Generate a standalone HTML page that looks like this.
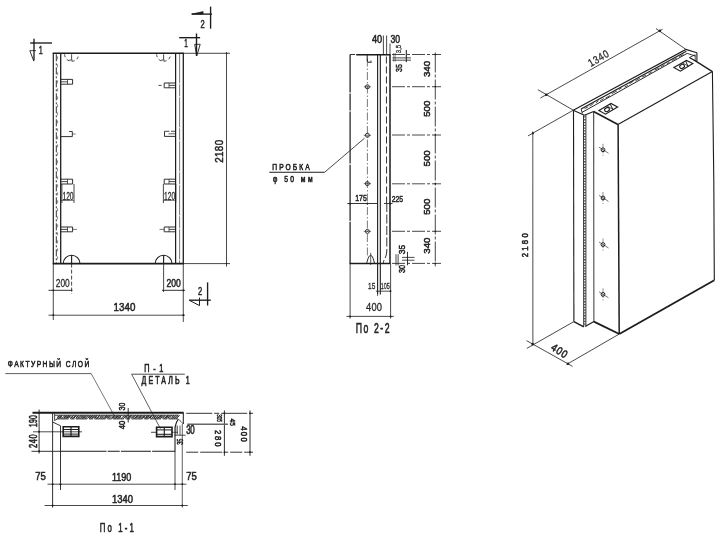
<!DOCTYPE html>
<html><head><meta charset="utf-8"><title>Panel drawing</title>
<style>
html,body{margin:0;padding:0;background:#fff;}
body{width:728px;height:543px;overflow:hidden;font-family:"Liberation Sans",sans-serif;}
svg{display:block;}
svg text{font-family:"Liberation Sans",sans-serif;fill:#1c1c1c;stroke:#1c1c1c;stroke-linejoin:round;}
</style></head><body>
<svg width="728" height="543" viewBox="0 0 728 543" fill="none" stroke="#1c1c1c" stroke-linecap="butt" stroke-linejoin="miter">
<defs><filter id="soft" x="0" y="0" width="728" height="543" filterUnits="userSpaceOnUse"><feGaussianBlur stdDeviation="0.38"/></filter></defs>
<rect x="0" y="0" width="728" height="543" fill="#ffffff" stroke="none"/>
<g filter="url(#soft)">
<line x1="52.7" y1="53.3" x2="183.9" y2="53.3" stroke-width="1.5"/>
<line x1="52.7" y1="263.6" x2="183.9" y2="263.6" stroke-width="1.7"/>
<line x1="53.3" y1="53.3" x2="53.3" y2="263.6" stroke-width="1.2"/>
<line x1="183.3" y1="53.3" x2="183.3" y2="263.6" stroke-width="1.3"/>
<line x1="60.7" y1="53.3" x2="60.7" y2="263.6" stroke-width="1.3"/>
<line x1="175.6" y1="53.3" x2="175.6" y2="263.6" stroke-width="1.2"/>
<line x1="56.3" y1="54.3" x2="56.3" y2="263.6" stroke-width="0.9" stroke-dasharray="7 2 2 2"/>
<line x1="57.6" y1="56.3" x2="57.6" y2="263.6" stroke-width="0.5" stroke-dasharray="3 5"/>
<line x1="179.6" y1="53.3" x2="179.6" y2="263.6" stroke-width="0.6" stroke-dasharray="30 1 12 1"/>
<line x1="183.3" y1="53.3" x2="230.0" y2="53.3" stroke-width="0.8"/>
<line x1="183.3" y1="263.6" x2="230.0" y2="263.6" stroke-width="0.8"/>
<line x1="226.5" y1="52.3" x2="226.5" y2="266.6" stroke-width="0.8"/>
<circle cx="226.5" cy="53.3" r="0.8" fill="#1c1c1c" stroke="none"/>
<circle cx="226.5" cy="263.6" r="0.8" fill="#1c1c1c" stroke="none"/>
<text x="0" y="4.2" font-size="11.6" text-anchor="middle" stroke-width="0.54" fill-opacity="0.92" textLength="27.1" lengthAdjust="spacing" transform="translate(219.2 151.3) rotate(-90) scale(0.85 1)">2180</text>
<line x1="53.3" y1="263.6" x2="53.3" y2="320.0" stroke-width="0.8"/>
<line x1="183.3" y1="263.6" x2="183.3" y2="322.0" stroke-width="0.8"/>
<line x1="48.5" y1="315.2" x2="185.0" y2="315.2" stroke-width="0.8"/>
<circle cx="53.3" cy="315.2" r="0.9" fill="#1c1c1c" stroke="none"/>
<circle cx="183.3" cy="315.2" r="0.9" fill="#1c1c1c" stroke="none"/>
<text x="0" y="4.1" font-size="11.5" text-anchor="middle" stroke-width="0.54" fill-opacity="0.92" textLength="25.9" lengthAdjust="spacing" transform="translate(124.4 307.2) scale(0.85 1)">1340</text>
<line x1="48.5" y1="290.3" x2="72.5" y2="290.3" stroke-width="0.9"/>
<line x1="71.6" y1="263.6" x2="71.6" y2="294.0" stroke-width="0.8" stroke-dasharray="4 2"/>
<circle cx="53.3" cy="290.3" r="0.9" fill="#1c1c1c" stroke="none"/>
<text x="62.8" y="287.3" font-size="10.6" text-anchor="middle" stroke-width="0.28" fill-opacity="0.92" textLength="14.0" lengthAdjust="spacingAndGlyphs">200</text>
<line x1="162.0" y1="290.3" x2="185.0" y2="290.3" stroke-width="0.9"/>
<line x1="163.6" y1="263.6" x2="163.6" y2="292.0" stroke-width="0.8"/>
<circle cx="183.3" cy="290.3" r="0.9" fill="#1c1c1c" stroke="none"/>
<text x="173.7" y="287.3" font-size="10.6" text-anchor="middle" stroke-width="0.5" fill-opacity="0.92" textLength="14.4" lengthAdjust="spacingAndGlyphs">200</text>
<path d="M63.3 263.6 A8.3 8.3 0 0 1 79.9 263.6" stroke-width="1.1" fill="none"/>
<line x1="71.6" y1="255.3" x2="71.6" y2="263.6" stroke-width="1.1"/>
<path d="M155.3 263.6 A8.3 8.3 0 0 1 171.9 263.6" stroke-width="1.1" fill="none"/>
<line x1="163.6" y1="255.3" x2="163.6" y2="263.6" stroke-width="1.1"/>
<path d="M64.6 54.3 A7 7 0 0 0 78.6 54.3" stroke-width="0.8" fill="none" stroke-dasharray="3 2.5"/>
<line x1="71.6" y1="54.3" x2="71.6" y2="59.8" stroke-width="0.8"/>
<line x1="69.1" y1="60.1" x2="72.6" y2="60.1" stroke-width="0.8"/>
<path d="M156.6 54.3 A7 7 0 0 0 170.6 54.3" stroke-width="0.8" fill="none" stroke-dasharray="3 2.5"/>
<line x1="163.6" y1="54.3" x2="163.6" y2="59.8" stroke-width="0.8"/>
<line x1="161.1" y1="60.1" x2="164.6" y2="60.1" stroke-width="0.8"/>
<line x1="60.7" y1="79.4" x2="72.6" y2="79.4" stroke-width="0.9"/>
<line x1="60.7" y1="84.2" x2="72.6" y2="84.2" stroke-width="0.9"/>
<line x1="72.6" y1="79.4" x2="72.6" y2="84.2" stroke-width="0.9"/>
<line x1="60.7" y1="81.8" x2="67.5" y2="81.8" stroke-width="0.8"/>
<line x1="67.5" y1="79.4" x2="67.5" y2="84.2" stroke-width="0.7"/>
<line x1="175.8" y1="83.0" x2="164.2" y2="83.0" stroke-width="0.9"/>
<line x1="175.8" y1="87.8" x2="164.2" y2="87.8" stroke-width="0.9"/>
<line x1="164.2" y1="83.0" x2="164.2" y2="87.8" stroke-width="0.9"/>
<line x1="175.8" y1="85.4" x2="169.0" y2="85.4" stroke-width="0.8"/>
<line x1="169.0" y1="83.0" x2="169.0" y2="87.8" stroke-width="0.7"/>
<line x1="158.5" y1="85.4" x2="161.5" y2="85.4" stroke-width="0.8"/>
<line x1="60.7" y1="136.6" x2="72.3" y2="136.6" stroke-width="0.9"/>
<line x1="72.3" y1="131.5" x2="72.3" y2="136.6" stroke-width="0.9"/>
<line x1="69.0" y1="131.5" x2="72.3" y2="131.5" stroke-width="0.8"/>
<line x1="72.3" y1="134.0" x2="75.5" y2="134.0" stroke-width="0.6"/>
<line x1="164.5" y1="131.3" x2="175.8" y2="131.3" stroke-width="0.8" stroke-dasharray="5 1.5"/>
<line x1="164.5" y1="136.4" x2="175.8" y2="136.4" stroke-width="0.9"/>
<line x1="164.5" y1="131.3" x2="164.5" y2="136.4" stroke-width="0.9"/>
<line x1="168.5" y1="133.8" x2="175.8" y2="133.8" stroke-width="0.7"/>
<line x1="60.7" y1="179.2" x2="72.6" y2="179.2" stroke-width="0.9"/>
<line x1="60.7" y1="184.0" x2="72.6" y2="184.0" stroke-width="0.9"/>
<line x1="72.6" y1="179.2" x2="72.6" y2="184.0" stroke-width="0.9"/>
<line x1="60.7" y1="181.6" x2="67.5" y2="181.6" stroke-width="0.8"/>
<line x1="67.5" y1="179.2" x2="67.5" y2="184.0" stroke-width="0.7"/>
<line x1="175.8" y1="179.2" x2="164.2" y2="179.2" stroke-width="0.9"/>
<line x1="175.8" y1="184.0" x2="164.2" y2="184.0" stroke-width="0.9"/>
<line x1="164.2" y1="179.2" x2="164.2" y2="184.0" stroke-width="0.9"/>
<line x1="175.8" y1="181.6" x2="169.0" y2="181.6" stroke-width="0.8"/>
<line x1="169.0" y1="179.2" x2="169.0" y2="184.0" stroke-width="0.7"/>
<line x1="61.9" y1="184.0" x2="61.9" y2="203.0" stroke-width="0.8"/>
<line x1="74.0" y1="184.0" x2="74.0" y2="203.0" stroke-width="0.8"/>
<text x="68.0" y="200.2" font-size="10.2" text-anchor="middle" stroke-width="0.28" fill-opacity="0.92" textLength="11.2" lengthAdjust="spacingAndGlyphs">120</text>
<line x1="163.4" y1="184.0" x2="163.4" y2="203.0" stroke-width="0.8"/>
<line x1="175.8" y1="184.0" x2="175.8" y2="203.0" stroke-width="0.8"/>
<text x="169.6" y="200.2" font-size="10.2" text-anchor="middle" stroke-width="0.28" fill-opacity="0.92" textLength="11.2" lengthAdjust="spacingAndGlyphs">120</text>
<line x1="60.7" y1="200.5" x2="74.0" y2="200.5" stroke-width="0.5"/>
<line x1="163.4" y1="200.5" x2="175.8" y2="200.5" stroke-width="0.5"/>
<line x1="60.7" y1="227.0" x2="72.6" y2="227.0" stroke-width="0.9"/>
<line x1="60.7" y1="231.8" x2="72.6" y2="231.8" stroke-width="0.9"/>
<line x1="72.6" y1="227.0" x2="72.6" y2="231.8" stroke-width="0.9"/>
<line x1="60.7" y1="229.4" x2="67.5" y2="229.4" stroke-width="0.8"/>
<line x1="67.5" y1="227.0" x2="67.5" y2="231.8" stroke-width="0.7"/>
<line x1="72.6" y1="229.4" x2="77.0" y2="229.4" stroke-width="0.6"/>
<line x1="175.8" y1="227.0" x2="164.2" y2="227.0" stroke-width="0.9"/>
<line x1="175.8" y1="231.8" x2="164.2" y2="231.8" stroke-width="0.9"/>
<line x1="164.2" y1="227.0" x2="164.2" y2="231.8" stroke-width="0.9"/>
<line x1="175.8" y1="229.4" x2="169.0" y2="229.4" stroke-width="0.8"/>
<line x1="169.0" y1="227.0" x2="169.0" y2="231.8" stroke-width="0.7"/>
<line x1="159.5" y1="229.4" x2="164.2" y2="229.4" stroke-width="0.6"/>
<line x1="30.2" y1="43.0" x2="52.0" y2="43.0" stroke-width="1.35"/>
<line x1="34.0" y1="38.8" x2="34.0" y2="60.5" stroke-width="1.35"/>
<path d="M29.8 50.6 L36.0 50.6" stroke-width="0.8" fill="none"/>
<path d="M29.8 50.6 L33.8 61.2" stroke-width="0.9" fill="none"/>
<text x="40.8" y="53.5" font-size="10.8" text-anchor="middle" stroke-width="0.5" fill-opacity="0.92" textLength="4.0" lengthAdjust="spacingAndGlyphs">1</text>
<line x1="191.7" y1="14.1" x2="212.0" y2="14.1" stroke-width="1.35"/>
<line x1="210.6" y1="6.6" x2="210.6" y2="28.7" stroke-width="1.35"/>
<path d="M191.7 14.1 L203.1 11.6 L203.1 14.1 Z" stroke-width="0.6" fill="#1c1c1c"/>
<text x="202.5" y="27.7" font-size="10.4" text-anchor="middle" stroke-width="0.5" fill-opacity="0.92" textLength="4.2" lengthAdjust="spacingAndGlyphs">2</text>
<line x1="179.2" y1="37.7" x2="200.1" y2="37.7" stroke-width="1.35"/>
<line x1="196.5" y1="33.5" x2="196.5" y2="56.0" stroke-width="1.35"/>
<path d="M194.7 44.3 L200.2 44.3 L196.7 56.0 Z" stroke-width="0.9" fill="none"/>
<text x="186.0" y="46.6" font-size="11" text-anchor="middle" stroke-width="0.5" fill-opacity="0.92" textLength="3.6" lengthAdjust="spacingAndGlyphs">1</text>
<line x1="207.6" y1="282.4" x2="207.6" y2="305.5" stroke-width="1.35"/>
<line x1="189.2" y1="300.2" x2="210.8" y2="300.2" stroke-width="1.35"/>
<path d="M189.2 300.2 L199.5 305.6" stroke-width="1.0" fill="none"/>
<path d="M199.5 297.6 L199.5 305.6" stroke-width="1.0" fill="none"/>
<text x="200.2" y="294.5" font-size="10.8" text-anchor="middle" stroke-width="0.5" fill-opacity="0.92" textLength="4.2" lengthAdjust="spacingAndGlyphs">2</text>
<line x1="350.1" y1="54.5" x2="350.1" y2="263.4" stroke-width="1.2" stroke-dasharray="38 1 17 1 52 1.2"/>
<line x1="350.1" y1="263.4" x2="350.1" y2="318.5" stroke-width="0.8"/>
<line x1="350.1" y1="54.5" x2="358.0" y2="54.5" stroke-width="0.9" stroke-dasharray="5 1.5"/>
<line x1="356.3" y1="54.8" x2="390.5" y2="54.8" stroke-width="1.5"/>
<line x1="349.6" y1="263.4" x2="390.6" y2="263.4" stroke-width="1.5"/>
<line x1="377.6" y1="54.5" x2="377.6" y2="294.5" stroke-width="1.1"/>
<line x1="380.3" y1="54.5" x2="380.3" y2="294.5" stroke-width="1.1"/>
<line x1="386.4" y1="56.5" x2="386.6" y2="203.0" stroke-width="0.9" stroke-dasharray="7 3"/>
<line x1="390.0" y1="54.5" x2="390.0" y2="263.4" stroke-width="1.5"/>
<path d="M386.8 203 L386.8 251 Q386.6 256 384.6 259 Q383.4 261 383.3 263.4" stroke-width="0.9" fill="none" stroke-dasharray="9 2.5"/>
<line x1="383.4" y1="35.5" x2="383.4" y2="54.5" stroke-width="0.8"/>
<line x1="386.6" y1="35.5" x2="386.6" y2="54.5" stroke-width="0.8"/>
<line x1="390.0" y1="43.5" x2="390.0" y2="54.5" stroke-width="0.8"/>
<text x="377.0" y="43.0" font-size="10" text-anchor="middle" stroke-width="0.5" fill-opacity="0.92" textLength="10.2" lengthAdjust="spacingAndGlyphs">40</text>
<text x="395.3" y="43.0" font-size="10" text-anchor="middle" stroke-width="0.5" fill-opacity="0.92" textLength="9.6" lengthAdjust="spacingAndGlyphs">30</text>
<line x1="367.4" y1="58.5" x2="367.4" y2="255.4" stroke-width="0.6" stroke-dasharray="8 2 1.5 2"/>
<circle cx="367.4" cy="86.8" r="2.0" stroke-width="0.9" fill="none"/>
<line x1="363.8" y1="86.8" x2="371.0" y2="86.8" stroke-width="0.6"/>
<circle cx="367.4" cy="135.3" r="2.0" stroke-width="0.9" fill="none"/>
<line x1="363.8" y1="135.3" x2="371.0" y2="135.3" stroke-width="0.6"/>
<circle cx="367.4" cy="183.6" r="2.0" stroke-width="0.9" fill="none"/>
<line x1="363.8" y1="183.6" x2="371.0" y2="183.6" stroke-width="0.6"/>
<circle cx="367.4" cy="231.4" r="2.0" stroke-width="0.9" fill="none"/>
<line x1="363.8" y1="231.4" x2="371.0" y2="231.4" stroke-width="0.6"/>
<path d="M367.2 54.5 L367.2 61.0 L368.0 62.2 L371.8 62.2" stroke-width="1.0" fill="none"/>
<line x1="370.9" y1="60.3" x2="370.9" y2="62.2" stroke-width="0.6"/>
<path d="M366.6 263.4 L368.2 258 Q370.6 252.5 373 258 L374.6 263.4" stroke-width="0.9" fill="none"/>
<line x1="370.7" y1="252.8" x2="370.7" y2="265.0" stroke-width="0.7"/>
<line x1="435.3" y1="52.5" x2="435.3" y2="266.4" stroke-width="0.8" stroke-dasharray="20 2 3 2"/>
<line x1="392.0" y1="54.5" x2="441.0" y2="54.5" stroke-width="0.8" stroke-dasharray="13 2 3 2"/>
<circle cx="435.3" cy="54.5" r="0.8" fill="#1c1c1c" stroke="none"/>
<line x1="392.0" y1="86.7" x2="441.0" y2="86.7" stroke-width="0.8" stroke-dasharray="13 2 3 2"/>
<circle cx="435.3" cy="86.7" r="0.8" fill="#1c1c1c" stroke="none"/>
<line x1="392.0" y1="135.0" x2="441.0" y2="135.0" stroke-width="0.8" stroke-dasharray="13 2 3 2"/>
<circle cx="435.3" cy="135.0" r="0.8" fill="#1c1c1c" stroke="none"/>
<line x1="392.0" y1="183.8" x2="441.0" y2="183.8" stroke-width="0.8" stroke-dasharray="13 2 3 2"/>
<circle cx="435.3" cy="183.8" r="0.8" fill="#1c1c1c" stroke="none"/>
<line x1="392.0" y1="231.3" x2="441.0" y2="231.3" stroke-width="0.8" stroke-dasharray="13 2 3 2"/>
<circle cx="435.3" cy="231.3" r="0.8" fill="#1c1c1c" stroke="none"/>
<line x1="392.0" y1="263.4" x2="441.0" y2="263.4" stroke-width="0.8" stroke-dasharray="13 2 3 2"/>
<circle cx="435.3" cy="263.4" r="0.8" fill="#1c1c1c" stroke="none"/>
<text x="426.8" y="72.5" font-size="9.8" text-anchor="middle" stroke-width="0.5" fill-opacity="0.92" textLength="16.2" lengthAdjust="spacingAndGlyphs" transform="rotate(-90 426.8 69.0)">340</text>
<text x="426.8" y="112.2" font-size="9.8" text-anchor="middle" stroke-width="0.5" fill-opacity="0.92" textLength="16.2" lengthAdjust="spacingAndGlyphs" transform="rotate(-90 426.8 108.7)">500</text>
<text x="426.8" y="161.9" font-size="9.8" text-anchor="middle" stroke-width="0.5" fill-opacity="0.92" textLength="16.2" lengthAdjust="spacingAndGlyphs" transform="rotate(-90 426.8 158.4)">500</text>
<text x="426.8" y="210.2" font-size="9.8" text-anchor="middle" stroke-width="0.5" fill-opacity="0.92" textLength="16.2" lengthAdjust="spacingAndGlyphs" transform="rotate(-90 426.8 206.7)">500</text>
<text x="426.8" y="249.1" font-size="9.8" text-anchor="middle" stroke-width="0.5" fill-opacity="0.92" textLength="16.2" lengthAdjust="spacingAndGlyphs" transform="rotate(-90 426.8 245.6)">340</text>
<line x1="347.3" y1="203.5" x2="377.6" y2="203.5" stroke-width="0.9"/>
<line x1="384.0" y1="203.5" x2="392.5" y2="203.5" stroke-width="0.8"/>
<text x="361.0" y="201.3" font-size="9.2" text-anchor="middle" stroke-width="0.5" fill-opacity="0.92" textLength="11.6" lengthAdjust="spacingAndGlyphs">175</text>
<text x="397.4" y="201.6" font-size="9.2" text-anchor="middle" stroke-width="0.5" fill-opacity="0.92" textLength="11.4" lengthAdjust="spacingAndGlyphs">225</text>
<circle cx="350.1" cy="203.5" r="1.0" fill="#1c1c1c" stroke="none"/>
<circle cx="367.4" cy="203.5" r="0.9" fill="#1c1c1c" stroke="none"/>
<circle cx="390.0" cy="203.5" r="0.9" fill="#1c1c1c" stroke="none"/>
<line x1="392.4" y1="57.9" x2="411.0" y2="57.9" stroke-width="0.8"/>
<line x1="392.4" y1="60.2" x2="411.0" y2="60.2" stroke-width="0.8"/>
<line x1="406.3" y1="49.9" x2="406.3" y2="62.2" stroke-width="1.0"/>
<line x1="393.7" y1="53.0" x2="393.7" y2="61.5" stroke-width="0.5"/>
<line x1="395.2" y1="53.0" x2="395.2" y2="61.5" stroke-width="0.5"/>
<text x="398.9" y="71.2" font-size="9" text-anchor="middle" stroke-width="0.5" fill-opacity="0.92" textLength="7.8" lengthAdjust="spacingAndGlyphs" transform="rotate(-90 398.9 68.0)">35</text>
<text x="398.6" y="51.7" font-size="7.4" text-anchor="middle" stroke-width="0.28" fill-opacity="0.92" textLength="8.3" lengthAdjust="spacingAndGlyphs" transform="rotate(-90 398.6 49.0)">3,5</text>
<line x1="396.0" y1="254.2" x2="396.0" y2="265.4" stroke-width="0.8"/>
<line x1="398.1" y1="254.2" x2="398.1" y2="265.4" stroke-width="0.8"/>
<line x1="407.5" y1="251.9" x2="407.5" y2="265.2" stroke-width="0.9"/>
<line x1="402.0" y1="257.4" x2="414.5" y2="257.4" stroke-width="0.8"/>
<line x1="402.0" y1="260.2" x2="414.5" y2="260.2" stroke-width="0.8"/>
<text x="402.4" y="252.6" font-size="8.6" text-anchor="middle" stroke-width="0.5" fill-opacity="0.92" textLength="9.4" lengthAdjust="spacingAndGlyphs" transform="rotate(-90 402.4 249.5)">35</text>
<text x="401.9" y="272.1" font-size="8.6" text-anchor="middle" stroke-width="0.5" fill-opacity="0.92" textLength="8.2" lengthAdjust="spacingAndGlyphs" transform="rotate(-90 401.9 269.0)">30</text>
<line x1="377.6" y1="294.5" x2="377.6" y2="296.0" stroke-width="0.7"/>
<line x1="375.9" y1="291.2" x2="391.0" y2="291.2" stroke-width="0.8"/>
<line x1="390.6" y1="263.4" x2="390.6" y2="318.5" stroke-width="0.8"/>
<text x="371.7" y="289.4" font-size="9.2" text-anchor="middle" stroke-width="0.28" fill-opacity="0.92" textLength="7.2" lengthAdjust="spacingAndGlyphs">15</text>
<text x="385.2" y="289.4" font-size="9.2" text-anchor="middle" stroke-width="0.28" fill-opacity="0.92" textLength="9.0" lengthAdjust="spacingAndGlyphs">105</text>
<circle cx="390.5" cy="291.2" r="0.9" fill="#1c1c1c" stroke="none"/>
<line x1="346.5" y1="316.4" x2="393.8" y2="316.4" stroke-width="0.8"/>
<circle cx="350.1" cy="316.4" r="0.9" fill="#1c1c1c" stroke="none"/>
<circle cx="390.6" cy="316.4" r="0.9" fill="#1c1c1c" stroke="none"/>
<text x="0" y="4.0" font-size="11" text-anchor="middle" stroke-width="0.30" fill-opacity="0.92" textLength="18.6" lengthAdjust="spacing" transform="translate(374.0 307.0) scale(0.85 1)">400</text>
<text x="0" y="5.0" font-size="14" text-anchor="middle" stroke-width="0.64" fill-opacity="0.92" textLength="54.8" lengthAdjust="spacing" transform="translate(372.7 328.0) scale(0.62 1)">По 2-2</text>
<text x="0" y="3.1" font-size="8.6" text-anchor="middle" stroke-width="0.57" fill-opacity="0.92" textLength="48.1" lengthAdjust="spacing" transform="translate(291.0 167.0) scale(0.78 1)">ПРОБКА</text>
<line x1="269.3" y1="172.3" x2="324.6" y2="172.3" stroke-width="1.1"/>
<line x1="324.6" y1="172.3" x2="364.5" y2="138.2" stroke-width="0.8"/>
<text x="0" y="3.1" font-size="8.6" text-anchor="middle" stroke-width="0.57" fill-opacity="0.92" textLength="50.6" lengthAdjust="spacing" transform="translate(292.8 178.8) scale(0.78 1)">φ 50 мм</text>
<path d="M573.3 110.2 L685.9 49.4 L696.9 52.8" stroke-width="1.1" fill="none"/>
<line x1="696.9" y1="52.8" x2="696.9" y2="61.6" stroke-width="1.1"/>
<path d="M573.3 110.2 L584.3 115.3" stroke-width="1.1" fill="none"/>
<path d="M581.1 109.0 L686.4 51.3" stroke-width="1.15" fill="none"/>
<path d="M582.0 112.4 L687.2 53.4" stroke-width="0.95" fill="none"/>
<path d="M581.1 109.0 L582.4 113.6" stroke-width="0.9" fill="none"/>
<line x1="584.6" y1="108.6" x2="588.1" y2="106.8" stroke-width="0.8"/>
<line x1="589.6" y1="106.2" x2="593.5" y2="103.5" stroke-width="0.8"/>
<line x1="595.9" y1="102.8" x2="598.5" y2="100.8" stroke-width="0.8"/>
<line x1="600.1" y1="100.9" x2="603.8" y2="98.5" stroke-width="0.8"/>
<line x1="605.6" y1="98.0" x2="609.9" y2="95.7" stroke-width="0.8"/>
<line x1="611.6" y1="93.6" x2="616.9" y2="91.0" stroke-width="0.8"/>
<line x1="618.7" y1="89.7" x2="621.6" y2="87.9" stroke-width="0.8"/>
<line x1="624.6" y1="87.0" x2="627.8" y2="85.4" stroke-width="0.8"/>
<line x1="629.5" y1="83.7" x2="633.5" y2="81.1" stroke-width="0.8"/>
<line x1="635.4" y1="80.9" x2="639.8" y2="78.3" stroke-width="0.8"/>
<line x1="642.1" y1="77.0" x2="646.0" y2="75.1" stroke-width="0.8"/>
<line x1="648.6" y1="73.7" x2="651.9" y2="71.9" stroke-width="0.8"/>
<line x1="654.7" y1="70.0" x2="659.4" y2="67.8" stroke-width="0.8"/>
<line x1="660.9" y1="67.0" x2="664.6" y2="64.7" stroke-width="0.8"/>
<line x1="666.8" y1="63.7" x2="669.6" y2="62.3" stroke-width="0.8"/>
<line x1="671.8" y1="60.6" x2="676.8" y2="58.0" stroke-width="0.8"/>
<line x1="679.2" y1="56.6" x2="683.4" y2="54.5" stroke-width="0.8"/>
<path d="M687.2 53.4 L695.3 56.0" stroke-width="0.9" fill="none"/>
<path d="M584.3 115.3 L593.6 111.5" stroke-width="1.1" fill="none"/>
<path d="M593.6 111.5 L617.9 124.5" stroke-width="1.5" fill="none"/>
<path d="M617.9 124.5 L712.4 71.6" stroke-width="1.1" fill="none"/>
<path d="M712.4 71.6 L696.6 61.6 L689.4 57.5" stroke-width="1.3" fill="none"/>
<path d="M689.4 57.5 L695.2 54.8" stroke-width="0.8" fill="none"/>
<path d="M695.2 54.8 L695.2 61.0" stroke-width="0.8" fill="none"/>
<line x1="573.5" y1="110.2" x2="573.9" y2="321.6" stroke-width="1.1"/>
<line x1="583.5" y1="115.3" x2="583.7" y2="326.8" stroke-width="0.9"/>
<line x1="585.9" y1="114.9" x2="585.9" y2="326.2" stroke-width="0.9"/>
<line x1="584.7" y1="116.3" x2="584.8" y2="326.0" stroke-width="1.5" stroke-dasharray="1.3 1.5" stroke-opacity="0.75"/>
<line x1="593.7" y1="111.5" x2="593.9" y2="321.6" stroke-width="0.9"/>
<line x1="618.1" y1="124.5" x2="619.2" y2="334.0" stroke-width="1.5"/>
<path d="M712.4 71.6 Q713.2 120 713.8 180 L714.3 280.3" stroke-width="1.1" fill="none"/>
<path d="M573.9 321.6 L583.8 326.9" stroke-width="1.5" fill="none"/>
<path d="M585.2 326.6 L593.9 321.6" stroke-width="1.1" fill="none"/>
<path d="M593.9 321.6 L619.3 334.0" stroke-width="1.8" fill="none"/>
<path d="M619.3 334.0 L714.3 280.3" stroke-width="1.8" fill="none"/>
<path d="M598.9 110.6 L611.0 103.5 L617.6 107.1 L605.5 114.2 Z" stroke-width="1.15" fill="none"/>
<ellipse cx="607.0" cy="109.6" rx="2.5" ry="1.9" stroke-width="1.1" transform="rotate(-28 607.0 109.6)"/>
<path d="M613.0 109.8 L610.2 104.0" stroke-width="1.0" fill="none"/>
<path d="M606.9 105.9 L613.5 109.5" stroke-width="0.7" fill="none"/>
<path d="M673.9 67.4 L686.5 60.4 L692.8 63.6 L680.4 71.2 Z" stroke-width="1.15" fill="none"/>
<ellipse cx="682.1" cy="66.4" rx="2.5" ry="1.9" stroke-width="1.1" transform="rotate(-28 682.1 66.4)"/>
<path d="M688.1 66.5 L685.6 60.9" stroke-width="1.0" fill="none"/>
<path d="M682.2 62.8 L688.6 66.2" stroke-width="0.7" fill="none"/>
<circle cx="603.0" cy="149.8" r="1.9" stroke-width="1.0" fill="none"/>
<line x1="603.0" y1="143.8" x2="603.0" y2="155.8" stroke-width="0.5" stroke-dasharray="4 1.5"/>
<line x1="599.0" y1="147.2" x2="608.5" y2="153.2" stroke-width="0.6"/>
<circle cx="603.0" cy="198.0" r="1.9" stroke-width="1.0" fill="none"/>
<line x1="603.0" y1="192.0" x2="603.0" y2="204.0" stroke-width="0.5" stroke-dasharray="4 1.5"/>
<line x1="599.0" y1="195.4" x2="608.5" y2="201.4" stroke-width="0.6"/>
<circle cx="603.0" cy="244.6" r="1.9" stroke-width="1.0" fill="none"/>
<line x1="603.0" y1="238.6" x2="603.0" y2="250.6" stroke-width="0.5" stroke-dasharray="4 1.5"/>
<line x1="599.0" y1="242.0" x2="608.5" y2="248.0" stroke-width="0.6"/>
<circle cx="603.0" cy="294.4" r="1.9" stroke-width="1.0" fill="none"/>
<line x1="603.0" y1="288.4" x2="603.0" y2="300.4" stroke-width="0.5" stroke-dasharray="4 1.5"/>
<line x1="599.0" y1="291.8" x2="608.5" y2="297.8" stroke-width="0.6"/>
<path d="M540.4 98.0 L662.6 29.2" stroke-width="0.8" fill="none"/>
<path d="M537.9 89.7 L573.3 110.2" stroke-width="0.8" fill="none"/>
<path d="M656.0 28.6 L685.9 49.4" stroke-width="0.8" fill="none"/>
<circle cx="546.3" cy="94.7" r="1.3" fill="#1c1c1c" stroke="none"/>
<circle cx="660.0" cy="30.7" r="1.2" fill="#1c1c1c" stroke="none"/>
<text x="0" y="3.9" font-size="10.8" text-anchor="middle" stroke-width="0.31" fill-opacity="0.92" textLength="26.8" lengthAdjust="spacing" transform="translate(598.3 58.1) rotate(-30) scale(0.82 1)">1340</text>
<path d="M573.3 110.2 L528.0 135.9" stroke-width="0.8" fill="none"/>
<line x1="532.8" y1="131.5" x2="532.9" y2="346.0" stroke-width="0.8"/>
<circle cx="532.8" cy="133.3" r="1.1" fill="#1c1c1c" stroke="none"/>
<circle cx="532.6" cy="343.9" r="1.2" fill="#1c1c1c" stroke="none"/>
<text x="0" y="3.4" font-size="9.4" text-anchor="middle" stroke-width="0.55" fill-opacity="0.92" textLength="29.3" lengthAdjust="spacing" transform="translate(524.3 245.3) rotate(-90) scale(0.82 1)">2180</text>
<path d="M573.9 321.6 L526.8 348.4" stroke-width="0.8" fill="none"/>
<path d="M619.3 334.0 L566.4 364.6" stroke-width="0.8" fill="none"/>
<path d="M526.5 340.6 L572.6 366.4" stroke-width="0.8" fill="none"/>
<circle cx="568.0" cy="363.8" r="1.2" fill="#1c1c1c" stroke="none"/>
<text x="0" y="3.9" font-size="10.8" text-anchor="middle" stroke-width="0.54" fill-opacity="0.92" textLength="20.0" lengthAdjust="spacing" transform="translate(559.6 350.6) rotate(33) scale(0.85 1)">400</text>
<line x1="32.5" y1="412.7" x2="183.6" y2="412.7" stroke-width="1.9"/>
<line x1="39.1" y1="409.5" x2="39.1" y2="453.5" stroke-width="0.9"/>
<circle cx="39.1" cy="412.7" r="1.0" fill="#1c1c1c" stroke="none"/>
<circle cx="39.1" cy="431.8" r="1.0" fill="#1c1c1c" stroke="none"/>
<circle cx="39.1" cy="451.3" r="1.0" fill="#1c1c1c" stroke="none"/>
<line x1="33.0" y1="431.8" x2="82.0" y2="431.8" stroke-width="0.8"/>
<text x="0" y="4.0" font-size="11.2" text-anchor="middle" stroke-width="0.64" fill-opacity="0.92" textLength="19.0" lengthAdjust="spacing" transform="translate(32.9 421.0) rotate(-90) scale(0.62 1)">190</text>
<text x="0" y="4.0" font-size="11.2" text-anchor="middle" stroke-width="0.62" fill-opacity="0.92" textLength="20.3" lengthAdjust="spacing" transform="translate(33.0 441.2) rotate(-90) scale(0.66 1)">240</text>
<line x1="31.5" y1="451.3" x2="60.5" y2="451.3" stroke-width="0.9"/>
<line x1="60.5" y1="451.3" x2="175.0" y2="451.3" stroke-width="1.1" stroke-dasharray="46 1.2 12 1.2 30 1.2"/>
<line x1="52.6" y1="412.7" x2="52.6" y2="507.5" stroke-width="0.9"/>
<path d="M52.6 422.0 L60.5 425.8" stroke-width="0.9" fill="none"/>
<line x1="60.5" y1="425.8" x2="60.5" y2="490.0" stroke-width="0.9"/>
<path d="M54.6 413.5 L54.6 420.5 L57.8 418.8" stroke-width="0.8" fill="none"/>
<line x1="55.0" y1="415.2" x2="178.5" y2="415.2" stroke-width="0.9"/>
<line x1="57.5" y1="418.9" x2="178.0" y2="418.9" stroke-width="0.9" stroke-dasharray="11 2 4 1.5"/>
<line x1="57.0" y1="418.6" x2="59.6" y2="415.4" stroke-width="0.95"/>
<line x1="58.4" y1="418.6" x2="61.2" y2="415.4" stroke-width="0.95"/>
<line x1="59.8" y1="418.6" x2="62.1" y2="415.4" stroke-width="0.95"/>
<line x1="61.5" y1="418.6" x2="65.2" y2="415.4" stroke-width="0.95"/>
<line x1="63.5" y1="418.6" x2="66.9" y2="415.4" stroke-width="0.95"/>
<line x1="65.0" y1="418.6" x2="68.1" y2="415.4" stroke-width="0.95"/>
<line x1="66.6" y1="418.6" x2="69.0" y2="415.4" stroke-width="0.95"/>
<line x1="68.0" y1="418.6" x2="70.5" y2="415.4" stroke-width="0.95"/>
<line x1="70.1" y1="418.6" x2="73.6" y2="415.4" stroke-width="0.95"/>
<line x1="72.1" y1="418.6" x2="75.6" y2="415.4" stroke-width="0.95"/>
<line x1="73.6" y1="418.6" x2="76.3" y2="415.4" stroke-width="0.95"/>
<line x1="75.5" y1="418.6" x2="78.8" y2="415.4" stroke-width="0.95"/>
<line x1="77.5" y1="418.6" x2="81.1" y2="415.4" stroke-width="0.95"/>
<line x1="78.9" y1="418.6" x2="82.1" y2="415.4" stroke-width="0.95"/>
<line x1="80.8" y1="418.6" x2="83.8" y2="415.4" stroke-width="0.95"/>
<line x1="82.3" y1="418.6" x2="85.2" y2="415.4" stroke-width="0.95"/>
<line x1="83.6" y1="418.6" x2="87.3" y2="415.4" stroke-width="0.95"/>
<line x1="85.7" y1="418.6" x2="88.8" y2="415.4" stroke-width="0.95"/>
<line x1="87.3" y1="418.6" x2="91.0" y2="415.4" stroke-width="0.95"/>
<line x1="89.1" y1="418.6" x2="92.7" y2="415.4" stroke-width="0.95"/>
<line x1="91.2" y1="418.6" x2="94.2" y2="415.4" stroke-width="0.95"/>
<line x1="92.8" y1="418.6" x2="96.0" y2="415.4" stroke-width="0.95"/>
<line x1="94.5" y1="418.6" x2="97.0" y2="415.4" stroke-width="0.95"/>
<line x1="96.1" y1="418.6" x2="99.6" y2="415.4" stroke-width="0.95"/>
<line x1="97.5" y1="418.6" x2="99.7" y2="415.4" stroke-width="0.95"/>
<line x1="99.3" y1="418.6" x2="102.0" y2="415.4" stroke-width="0.95"/>
<line x1="101.1" y1="418.6" x2="104.1" y2="415.4" stroke-width="0.95"/>
<line x1="102.7" y1="418.6" x2="106.5" y2="415.4" stroke-width="0.95"/>
<line x1="104.2" y1="418.6" x2="107.0" y2="415.4" stroke-width="0.95"/>
<line x1="105.7" y1="418.6" x2="108.9" y2="415.4" stroke-width="0.95"/>
<line x1="107.2" y1="418.6" x2="110.0" y2="415.4" stroke-width="0.95"/>
<line x1="109.2" y1="418.6" x2="111.9" y2="415.4" stroke-width="0.95"/>
<line x1="111.0" y1="418.6" x2="114.6" y2="415.4" stroke-width="0.95"/>
<line x1="112.4" y1="418.6" x2="114.7" y2="415.4" stroke-width="0.95"/>
<line x1="113.9" y1="418.6" x2="117.3" y2="415.4" stroke-width="0.95"/>
<line x1="115.7" y1="418.6" x2="118.3" y2="415.4" stroke-width="0.95"/>
<line x1="117.3" y1="418.6" x2="119.8" y2="415.4" stroke-width="0.95"/>
<line x1="119.0" y1="418.6" x2="121.3" y2="415.4" stroke-width="0.95"/>
<line x1="121.0" y1="418.6" x2="124.6" y2="415.4" stroke-width="0.95"/>
<line x1="123.1" y1="418.6" x2="126.5" y2="415.4" stroke-width="0.95"/>
<line x1="125.3" y1="418.6" x2="127.5" y2="415.4" stroke-width="0.95"/>
<line x1="126.9" y1="418.6" x2="130.6" y2="415.4" stroke-width="0.95"/>
<line x1="128.9" y1="418.6" x2="131.7" y2="415.4" stroke-width="0.95"/>
<line x1="131.0" y1="418.6" x2="134.2" y2="415.4" stroke-width="0.95"/>
<line x1="133.0" y1="418.6" x2="135.7" y2="415.4" stroke-width="0.95"/>
<line x1="134.5" y1="418.6" x2="137.4" y2="415.4" stroke-width="0.95"/>
<line x1="135.9" y1="418.6" x2="138.7" y2="415.4" stroke-width="0.95"/>
<line x1="138.1" y1="418.6" x2="140.8" y2="415.4" stroke-width="0.95"/>
<line x1="139.4" y1="418.6" x2="141.7" y2="415.4" stroke-width="0.95"/>
<line x1="140.9" y1="418.6" x2="144.3" y2="415.4" stroke-width="0.95"/>
<line x1="142.5" y1="418.6" x2="145.2" y2="415.4" stroke-width="0.95"/>
<line x1="143.9" y1="418.6" x2="147.6" y2="415.4" stroke-width="0.95"/>
<line x1="145.6" y1="418.6" x2="148.1" y2="415.4" stroke-width="0.95"/>
<line x1="146.9" y1="418.6" x2="149.2" y2="415.4" stroke-width="0.95"/>
<line x1="148.4" y1="418.6" x2="151.6" y2="415.4" stroke-width="0.95"/>
<line x1="149.8" y1="418.6" x2="152.1" y2="415.4" stroke-width="0.95"/>
<line x1="151.5" y1="418.6" x2="154.1" y2="415.4" stroke-width="0.95"/>
<line x1="153.7" y1="418.6" x2="156.1" y2="415.4" stroke-width="0.95"/>
<line x1="155.5" y1="418.6" x2="159.0" y2="415.4" stroke-width="0.95"/>
<line x1="157.2" y1="418.6" x2="161.0" y2="415.4" stroke-width="0.95"/>
<line x1="158.9" y1="418.6" x2="161.5" y2="415.4" stroke-width="0.95"/>
<line x1="160.6" y1="418.6" x2="162.8" y2="415.4" stroke-width="0.95"/>
<line x1="162.3" y1="418.6" x2="164.9" y2="415.4" stroke-width="0.95"/>
<line x1="164.4" y1="418.6" x2="167.9" y2="415.4" stroke-width="0.95"/>
<line x1="166.1" y1="418.6" x2="168.4" y2="415.4" stroke-width="0.95"/>
<line x1="167.6" y1="418.6" x2="170.2" y2="415.4" stroke-width="0.95"/>
<line x1="169.1" y1="418.6" x2="171.7" y2="415.4" stroke-width="0.95"/>
<line x1="171.2" y1="418.6" x2="173.6" y2="415.4" stroke-width="0.95"/>
<line x1="172.6" y1="418.6" x2="176.2" y2="415.4" stroke-width="0.95"/>
<line x1="174.4" y1="418.6" x2="178.1" y2="415.4" stroke-width="0.95"/>
<line x1="176.0" y1="418.6" x2="179.7" y2="415.4" stroke-width="0.95"/>
<line x1="57.0" y1="417.0" x2="177.5" y2="417.0" stroke-width="1.1" stroke-dasharray="5 2 9 3 3 2" stroke-opacity="0.75"/>
<line x1="183.3" y1="412.7" x2="183.3" y2="424.0" stroke-width="1.0"/>
<path d="M178.4 419.2 L176.6 422.0 L175.0 427.0 L175.0 452.0" stroke-width="1.1" fill="none"/>
<line x1="175.0" y1="452.0" x2="175.0" y2="490.0" stroke-width="0.8"/>
<path d="M178.4 419.2 L181.0 421.5 L183.3 424.0" stroke-width="0.7" fill="none"/>
<line x1="182.3" y1="424.0" x2="182.3" y2="507.5" stroke-width="0.7"/>
<path d="M63.2 426.8 L78.8 426.8 L78.8 436.4 L63.2 436.4 Z" stroke-width="1.6" fill="none"/>
<line x1="71.0" y1="426.8" x2="71.0" y2="436.4" stroke-width="1.2"/>
<line x1="63.2" y1="429.5" x2="78.8" y2="429.5" stroke-width="1.0"/>
<line x1="63.2" y1="434.1" x2="78.8" y2="434.1" stroke-width="1.0"/>
<path d="M156.6 427.2 L172.0 427.2 L172.0 436.6 L156.6 436.6 Z" stroke-width="1.6" fill="none"/>
<line x1="164.3" y1="427.2" x2="164.3" y2="436.6" stroke-width="1.2"/>
<line x1="156.6" y1="429.9" x2="172.0" y2="429.9" stroke-width="1.0"/>
<line x1="156.6" y1="434.3" x2="172.0" y2="434.3" stroke-width="1.0"/>
<line x1="151.0" y1="432.3" x2="157.0" y2="432.3" stroke-width="0.8"/>
<line x1="172.0" y1="432.3" x2="178.0" y2="432.3" stroke-width="0.6"/>
<line x1="176.0" y1="425.5" x2="176.0" y2="434.5" stroke-width="0.6"/>
<line x1="177.5" y1="425.5" x2="177.5" y2="434.5" stroke-width="0.6"/>
<line x1="180.0" y1="425.5" x2="180.0" y2="435.4" stroke-width="0.7"/>
<line x1="174.4" y1="435.2" x2="185.6" y2="435.2" stroke-width="0.8"/>
<line x1="128.2" y1="408.0" x2="128.2" y2="422.5" stroke-width="0.9"/>
<line x1="124.0" y1="412.7" x2="132.0" y2="412.7" stroke-width="0.6"/>
<text x="121.3" y="410.1" font-size="9.6" text-anchor="middle" stroke-width="0.5" fill-opacity="0.92" textLength="7.8" lengthAdjust="spacingAndGlyphs" transform="rotate(-90 121.3 406.6)">30</text>
<text x="121.3" y="428.5" font-size="9.6" text-anchor="middle" stroke-width="0.5" fill-opacity="0.92" textLength="8.6" lengthAdjust="spacingAndGlyphs" transform="rotate(-90 121.3 425.0)">40</text>
<text x="0" y="3.5" font-size="9.6" text-anchor="middle" stroke-width="0.60" fill-opacity="0.92" textLength="116.4" lengthAdjust="spacing" transform="translate(48.5 363.7) scale(0.7 1)">ФАКТУРНЫЙ СЛОЙ</text>
<line x1="5.3" y1="373.6" x2="91.2" y2="373.6" stroke-width="0.7"/>
<line x1="91.2" y1="373.6" x2="114.6" y2="416.3" stroke-width="0.6"/>
<text x="0" y="3.7" font-size="10.4" text-anchor="middle" stroke-width="0.60" fill-opacity="0.92" textLength="27.1" lengthAdjust="spacing" transform="translate(153.8 368.6) scale(0.7 1)">П-1</text>
<line x1="131.6" y1="374.2" x2="184.8" y2="374.2" stroke-width="0.8"/>
<line x1="131.6" y1="374.2" x2="160.4" y2="428.6" stroke-width="0.7"/>
<text x="0" y="3.6" font-size="10" text-anchor="middle" stroke-width="0.60" fill-opacity="0.92" textLength="68.6" lengthAdjust="spacing" transform="translate(165.6 380.4) scale(0.7 1)">ДЕТАЛЬ 1</text>
<line x1="186.2" y1="413.3" x2="253.0" y2="413.3" stroke-width="0.9" stroke-dasharray="26 2 5 2"/>
<line x1="186.2" y1="452.2" x2="253.0" y2="452.2" stroke-width="0.9" stroke-dasharray="12 2 22 2 4 2"/>
<line x1="224.4" y1="410.4" x2="224.4" y2="455.8" stroke-width="0.9"/>
<line x1="250.0" y1="410.4" x2="250.0" y2="455.8" stroke-width="0.9"/>
<circle cx="224.4" cy="413.3" r="0.9" fill="#1c1c1c" stroke="none"/>
<circle cx="250.0" cy="413.3" r="0.9" fill="#1c1c1c" stroke="none"/>
<circle cx="224.4" cy="452.2" r="0.9" fill="#1c1c1c" stroke="none"/>
<circle cx="250.0" cy="452.2" r="0.9" fill="#1c1c1c" stroke="none"/>
<line x1="187.3" y1="424.2" x2="228.0" y2="424.2" stroke-width="1.5" stroke="#666"/>
<text x="0" y="4.3" font-size="12" text-anchor="middle" stroke-width="0.62" fill-opacity="0.92" textLength="12.7" lengthAdjust="spacing" transform="translate(190.5 430.0) scale(0.66 1)">30</text>
<text x="179.5" y="444.8" font-size="8.6" text-anchor="middle" stroke-width="0.5" fill-opacity="0.92" textLength="6.2" lengthAdjust="spacingAndGlyphs" transform="rotate(-90 179.5 441.7)">35</text>
<text x="0" y="3.5" font-size="9.6" text-anchor="middle" stroke-width="0.56" fill-opacity="0.92" textLength="20.8" lengthAdjust="spacing" transform="translate(218.5 438.2) rotate(90) scale(0.8 1)">280</text>
<text x="0" y="3.5" font-size="9.6" text-anchor="middle" stroke-width="0.56" fill-opacity="0.92" textLength="19.5" lengthAdjust="spacing" transform="translate(244.2 434.0) rotate(90) scale(0.8 1)">400</text>
<text x="232.6" y="425.1" font-size="8" text-anchor="middle" stroke-width="0.5" fill-opacity="0.92" textLength="7.2" lengthAdjust="spacingAndGlyphs" transform="rotate(90 232.6 422.2)">45</text>
<text x="219.6" y="420.5" font-size="7" text-anchor="middle" stroke-width="0.5" fill-opacity="0.92" textLength="7.6" lengthAdjust="spacingAndGlyphs" transform="rotate(90 219.6 418.0)">305</text>
<line x1="47.5" y1="484.2" x2="186.4" y2="484.2" stroke-width="0.8"/>
<line x1="44.6" y1="505.5" x2="187.8" y2="505.5" stroke-width="0.8"/>
<circle cx="52.6" cy="484.2" r="1.0" fill="#1c1c1c" stroke="none"/>
<circle cx="60.5" cy="484.2" r="1.0" fill="#1c1c1c" stroke="none"/>
<circle cx="175.0" cy="484.2" r="0.9" fill="#1c1c1c" stroke="none"/>
<circle cx="182.3" cy="484.2" r="0.9" fill="#1c1c1c" stroke="none"/>
<circle cx="52.6" cy="505.5" r="0.9" fill="#1c1c1c" stroke="none"/>
<circle cx="182.3" cy="505.5" r="0.9" fill="#1c1c1c" stroke="none"/>
<text x="40.6" y="479.8" font-size="10" text-anchor="middle" stroke-width="0.5" fill-opacity="0.92" textLength="10.6" lengthAdjust="spacingAndGlyphs">75</text>
<text x="191.6" y="479.8" font-size="10" text-anchor="middle" stroke-width="0.5" fill-opacity="0.92" textLength="10.6" lengthAdjust="spacingAndGlyphs">75</text>
<text x="121.6" y="480.7" font-size="10.4" text-anchor="middle" stroke-width="0.5" fill-opacity="0.92" textLength="19.4" lengthAdjust="spacingAndGlyphs">1190</text>
<text x="122.6" y="502.7" font-size="10.4" text-anchor="middle" stroke-width="0.5" fill-opacity="0.92" textLength="21.0" lengthAdjust="spacingAndGlyphs">1340</text>
<text x="0" y="4.5" font-size="12.6" text-anchor="middle" stroke-width="0.64" fill-opacity="0.92" textLength="54.8" lengthAdjust="spacing" transform="translate(116.8 527.6) scale(0.62 1)">По 1-1</text>
</g>
</svg>
</body></html>
